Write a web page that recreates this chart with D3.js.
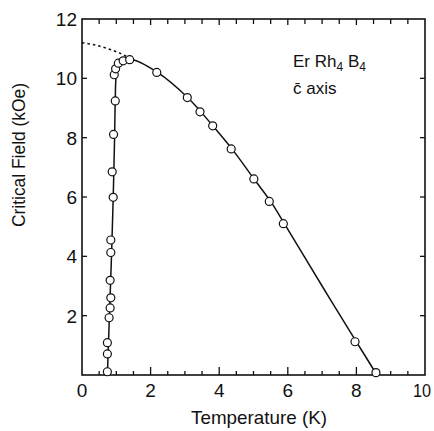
<!DOCTYPE html>
<html>
<head>
<meta charset="utf-8">
<script src="https://cdn.jsdelivr.net/npm/d3@7"></script>
<style>
body { margin: 0; background: #fff; }
text { font-family: "Liberation Sans Narrow", "Arial Narrow", "Liberation Sans", sans-serif; fill: #111; }
</style>
</head>
<body>
<div id="mainDiv"></div>
<script>
// measured points (temperature K, critical field kOe)
var tempPts = [0.74, 0.74, 0.74, 0.79, 0.82, 0.84, 0.82, 0.84, 0.84, 0.91, 0.88, 0.92, 0.97, 0.94, 0.98, 1.06, 1.2, 1.39, 2.18, 3.07, 3.44, 3.81, 4.35, 5.01, 5.46, 5.87, 7.96, 8.57];
var fieldPts = [0.11, 0.71, 1.09, 1.93, 2.26, 2.6, 3.19, 4.13, 4.55, 5.99, 6.85, 8.11, 9.24, 10.12, 10.32, 10.51, 10.59, 10.63, 10.2, 9.35, 8.87, 8.4, 7.62, 6.61, 5.85, 5.1, 1.12, 0.08];

// drawn solid curve
var curveT = [0.74, 0.80, 0.86, 0.91, 0.95, 0.97, 1.0, 1.08, 1.2, 1.39, 2.2, 3.1, 3.8, 4.4, 5.0, 5.5, 5.9, 7.0, 8.0, 8.6];
var curveH = [0, 2, 4, 6, 8, 9.3, 10.1, 10.45, 10.6, 10.65, 10.2, 9.33, 8.42, 7.58, 6.63, 5.85, 5.1, 3.0, 1.12, 0];

// dotted extrapolation
var dotT = [0, 0.4, 0.8, 1.1, 1.4];
var dotH = [11.2, 11.12, 10.98, 10.85, 10.68];

var xTicks = [0, 2, 4, 6, 8, 10];
var yTicks = [2, 4, 6, 8, 10, 12];

var svg = d3.select("#mainDiv").append("svg")
    .attr("width", 434)
    .attr("height", 431);

var mLeft = 82, mRight = 425, mTop = 19, mBottom = 375;
var x = d3.scaleLinear().domain([0, 10]).range([mLeft, mRight]);
var y = d3.scaleLinear().domain([0, 12]).range([mBottom, mTop]);

// frame
svg.append("rect")
    .attr("x", mLeft).attr("y", mTop)
    .attr("width", mRight - mLeft).attr("height", mBottom - mTop)
    .attr("fill", "none").attr("stroke", "#111").attr("stroke-width", 1.6);

// x ticks every 0.5, inward on bottom and top
var minorX = d3.range(0.5, 10, 0.5);
minorX.forEach(function(t){
    var major = (t % 2 === 0);
    svg.append("line")
        .attr("x1", x(t)).attr("x2", x(t))
        .attr("y1", mBottom).attr("y2", mBottom - (major ? 8 : 4))
        .attr("stroke", "#111").attr("stroke-width", 1.3);
    svg.append("line")
        .attr("x1", x(t)).attr("x2", x(t))
        .attr("y1", mTop).attr("y2", mTop + (major ? 6 : 5))
        .attr("stroke", "#111").attr("stroke-width", 1.3);
});

// y ticks inward on left and right
yTicks.slice(0, 5).forEach(function(v){
    svg.append("line")
        .attr("x1", mLeft).attr("x2", mLeft + 5)
        .attr("y1", y(v)).attr("y2", y(v))
        .attr("stroke", "#111").attr("stroke-width", 1.3);
    svg.append("line")
        .attr("x1", mRight).attr("x2", mRight - 5)
        .attr("y1", y(v)).attr("y2", y(v))
        .attr("stroke", "#111").attr("stroke-width", 1.3);
});

// tick labels
svg.selectAll(".xl").data(xTicks).enter().append("text")
    .attr("x", function(d){ return d === 10 ? x(d) - 3 : x(d); })
    .attr("y", 397)
    .attr("text-anchor", "middle")
    .attr("font-size", "19px")
    .attr("textLength", function(d){ return d === 10 ? 18 : null; })
    .attr("lengthAdjust", "spacingAndGlyphs")
    .text(function(d){ return d; });

svg.selectAll(".yl").data(yTicks).enter().append("text")
    .attr("x", 77)
    .attr("y", function(d){ return y(d) + 7; })
    .attr("text-anchor", "end")
    .attr("font-size", "19px")
    .text(function(d){ return d; });

// axis titles
svg.append("text")
    .attr("x", 191).attr("y", 424)
    .attr("font-size", "19px")
    .attr("textLength", 136)
    .attr("lengthAdjust", "spacingAndGlyphs")
    .text("Temperature (K)");

svg.append("text")
    .attr("transform", "translate(25,227) rotate(-90)")
    .attr("font-size", "19px")
    .attr("textLength", 144)
    .attr("lengthAdjust", "spacingAndGlyphs")
    .text("Critical Field (kOe)");

// dotted line
var line = d3.line()
    .x(function(d){ return x(d[0]); })
    .y(function(d){ return y(d[1]); });

svg.append("path")
    .attr("d", line.curve(d3.curveMonotoneX)(d3.zip(dotT, dotH)))
    .attr("fill", "none").attr("stroke", "#111")
    .attr("stroke-width", 1.6).attr("stroke-dasharray", "2.5,3");

// solid curve
svg.append("path")
    .attr("d", line.curve(d3.curveCatmullRom.alpha(0.5))(d3.zip(curveT, curveH)))
    .attr("fill", "none").attr("stroke", "#111").attr("stroke-width", 1.5);

// points
svg.selectAll(".pt").data(d3.zip(tempPts, fieldPts)).enter().append("circle")
    .attr("cx", function(d){ return x(d[0]); })
    .attr("cy", function(d){ return y(d[1]); })
    .attr("r", 4)
    .attr("fill", "#fff").attr("stroke", "#111").attr("stroke-width", 1.2);

// annotation
var ann = svg.append("text").attr("x", 293).attr("y", 67).attr("font-size", "17px");
ann.append("tspan").text("Er Rh");
ann.append("tspan").attr("font-size", "12px").attr("dy", 4).text("4");
ann.append("tspan").attr("dy", -4).text(" B");
ann.append("tspan").attr("font-size", "12px").attr("dy", 4).text("4");

svg.append("text").attr("x", 293).attr("y", 94).attr("font-size", "17px")
    .text("c\u0304 axis");
</script>
</body>
</html>
